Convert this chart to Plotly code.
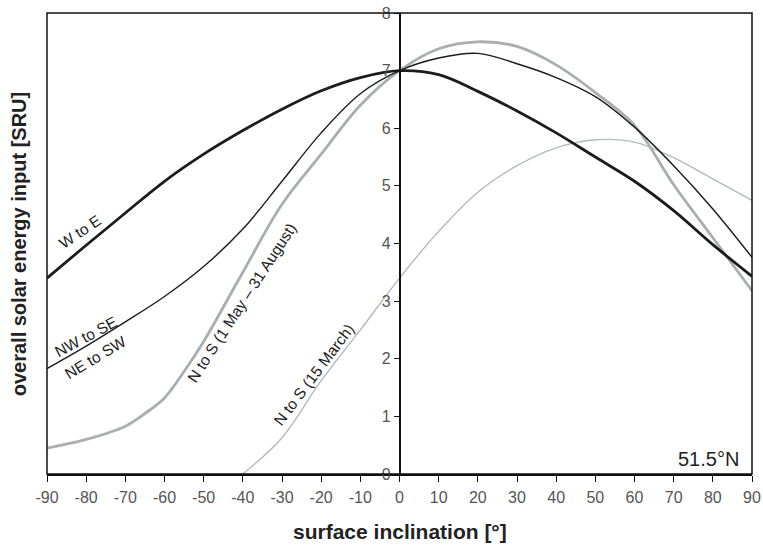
import plotly.graph_objects as go

# Surface inclination (degrees) and overall solar energy input [SRU]
incl = [-90, -80, -70, -60, -50, -40, -30, -20, -10, 0,
        10, 20, 30, 40, 50, 60, 70, 80, 90]

w_to_e = [3.40, 3.97, 4.53, 5.08, 5.55, 5.96, 6.33, 6.65, 6.88, 7.00,
          6.93, 6.64, 6.30, 5.92, 5.50, 5.08, 4.57, 3.98, 3.43]

nw_to_se = [1.83, 2.22, 2.64, 3.08, 3.60, 4.25, 5.08, 5.92, 6.60, 7.00,
            7.22, 7.30, 7.12, 6.88, 6.55, 6.02, 5.35, 4.60, 3.76]

incl_summer = [-90, -80, -70, -65, -60, -55, -50, -40, -30, -20, -10, 0,
               10, 20, 30, 40, 50, 60, 70, 80, 90]
n_to_s_summer = [0.45, 0.60, 0.83, 1.05, 1.32, 1.78, 2.30, 3.50, 4.68, 5.55, 6.40, 7.00,
                 7.38, 7.50, 7.42, 7.10, 6.62, 6.05, 5.02, 4.10, 3.18]

incl_march = [-40, -30, -20, -10, 0, 10, 20, 30, 40, 50, 60, 70, 80, 90]
n_to_s_march = [0.00, 0.63, 1.62, 2.50, 3.40, 4.21, 4.89, 5.35, 5.66, 5.80,
                5.76, 5.49, 5.12, 4.75]

x_ticks = list(range(-90, 91, 10))
y_ticks = list(range(0, 9))

FONT = "Liberation Sans, Arial, sans-serif"
GREY = "#a9aeae"
DARK = "#1c1c1c"

fig = go.Figure()
fig.add_trace(go.Scatter(x=incl_march, y=n_to_s_march, mode="lines",
                         line=dict(color="#b4b9b9", width=1.4, shape="spline")))
fig.add_trace(go.Scatter(x=incl_summer, y=n_to_s_summer, mode="lines",
                         line=dict(color=GREY, width=2.8, shape="spline")))
fig.add_trace(go.Scatter(x=incl, y=nw_to_se, mode="lines",
                         line=dict(color=DARK, width=1.4, shape="spline")))
fig.add_trace(go.Scatter(x=incl, y=w_to_e, mode="lines",
                         line=dict(color=DARK, width=2.8, shape="spline")))

label_font = dict(family=FONT, size=15.5, color="#222")
curve_labels = [
    ("W to E", -81.5, 4.2, -34),
    ("NW to SE", -80, 2.38, -28),
    ("NE to SW", -77.7, 2.03, -31),
    ("N to S (1 May \u2013 31 August)", -40.2, 2.97, -57),
    ("N to S (15 March)", -21.8, 1.72, -53),
]
annotations = []
for text, x, y, ang in curve_labels:
    annotations.append(dict(x=x, y=y, xref="x", yref="y", text=text, showarrow=False,
                            textangle=ang, font=label_font))

annotations.append(dict(x=0.985, y=0.005, xref="paper", yref="paper", text="51.5\u00b0N",
                        showarrow=False, xanchor="right", yanchor="bottom",
                        font=dict(family=FONT, size=20, color="#222")))
annotations.append(dict(x=-0.04, y=0.5, xref="paper", yref="paper",
                        text="<b>overall solar energy input [SRU]</b>", showarrow=False,
                        textangle=-90, xanchor="center", yanchor="middle",
                        font=dict(family=FONT, size=20, color="#222")))
annotations.append(dict(x=0.5, y=-0.125, xref="paper", yref="paper",
                        text="<b>surface inclination [\u00b0]</b>", showarrow=False,
                        xanchor="center", yanchor="middle",
                        font=dict(family=FONT, size=21, color="#222")))

tick_font = dict(family=FONT, size=16, color="#555")

fig.update_layout(
    width=763, height=547,
    margin=dict(l=47, r=11, t=13, b=73),
    paper_bgcolor="white", plot_bgcolor="white",
    showlegend=False,
    annotations=annotations,
    shapes=[dict(type="rect", xref="paper", yref="paper", x0=0, x1=1, y0=0, y1=1,
                 line=dict(color="#111", width=1.5), layer="above")],
    xaxis=dict(range=[-90, 90], tickvals=x_ticks, ticktext=[str(v) for v in x_ticks],
               showgrid=False, zeroline=False, showline=True, linecolor="#111", linewidth=1.5,
               ticks="outside", ticklen=6, tickwidth=1.3, tickcolor="#111",
               ticklabelstandoff=2, automargin=False, tickfont=tick_font),
    yaxis=dict(range=[0, 8], tickvals=y_ticks, anchor="free", position=0.5,
               showgrid=False, zeroline=False, showline=True, linecolor="#111", linewidth=1.5,
               ticks="outside", ticklen=5, tickwidth=1.3, tickcolor="#111",
               automargin=False, tickfont=tick_font),
)

fig.write_html("out.html")
